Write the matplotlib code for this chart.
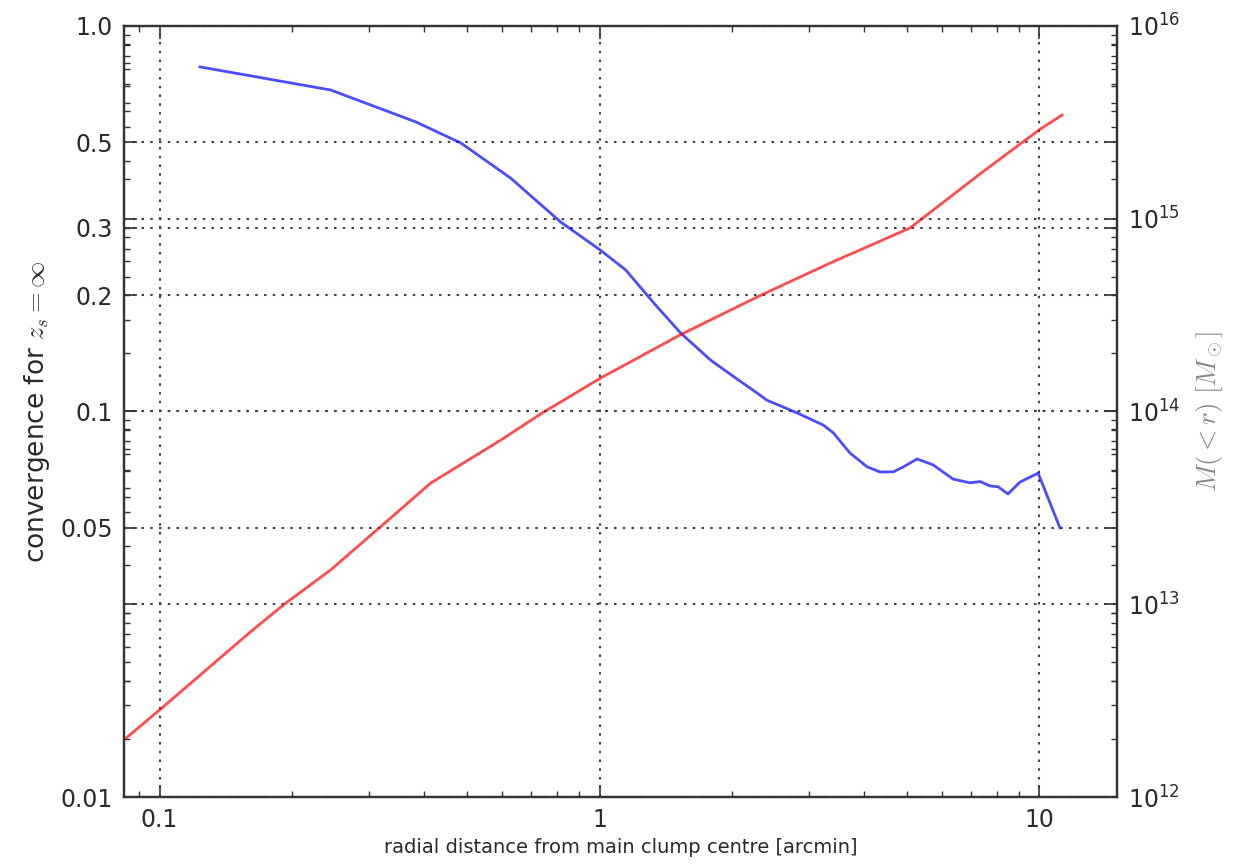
import matplotlib
matplotlib.use("Agg")
import matplotlib.pyplot as plt
from matplotlib.ticker import FixedLocator, FixedFormatter, LogLocator, NullFormatter

plt.rcParams['mathtext.fontset'] = 'cm'
plt.rcParams['font.family'] = ['DejaVu Sans']

# convergence profile (left axis)
kappa_r = [0.1236, 0.245, 0.382, 0.484, 0.628, 0.816, 1.005, 1.146, 1.34, 1.527, 1.787,
           2.0, 2.28, 2.40, 2.815, 3.226, 3.40, 3.71, 4.06, 4.34, 4.65, 4.90, 5.27, 5.73,
           6.36, 6.95, 7.33, 7.72, 8.05, 8.48, 9.03, 9.93, 11.13]
kappa = [0.783, 0.682, 0.564, 0.497, 0.403, 0.310, 0.262, 0.233, 0.189, 0.160, 0.136,
         0.124, 0.1117, 0.107, 0.0991, 0.0922, 0.0880, 0.078, 0.0718, 0.0697, 0.0697,
         0.0718, 0.0753, 0.0727, 0.0668, 0.0653, 0.0658, 0.0641, 0.0638, 0.0611, 0.0656,
         0.0692, 0.0499]

# enclosed mass (right axis)
mass_r = [0.083, 0.1, 0.161, 0.192, 0.245, 0.335, 0.413, 0.596, 0.734, 1.005, 1.527, 2.32,
          3.35, 5.08, 7.33, 10.0, 11.25]
mass = [1.98e12, 2.83e12, 7.2e12, 1.0e13, 1.51e13, 2.8e13, 4.25e13, 7.1e13, 9.7e13,
        1.49e14, 2.5e14, 4.0e14, 5.9e14, 8.96e14, 1.71e15, 2.9e15, 3.45e15]

left_ticks = [0.01, 0.05, 0.1, 0.2, 0.3, 0.5, 1.0]
left_labels = ['0.01', '0.05', '0.1', '0.2', '0.3', '0.5', '1.0']
x_ticks = [0.1, 1, 10]
x_labels = ['0.1', '1', '10']

txt = '#2a2a2a'
gridkw = dict(color='#444444', linestyle=(0, (1.2, 3)), linewidth=1.5)

fig = plt.figure(figsize=(12.47, 8.65), dpi=100)
ax = fig.add_axes([0.0994, 0.0786, 0.7963, 0.8914])
ax2 = ax.twinx()

ax.plot(kappa_r, kappa, color='blue', alpha=0.7, lw=2)
ax2.plot(mass_r, mass, color='red', alpha=0.7, lw=2)

ax.set_xscale('log')
ax.set_yscale('log')
ax2.set_yscale('log')
ax.set_xlim(0.083, 15)
ax.set_ylim(0.01, 1.0)
ax2.set_ylim(1e12, 1e16)

ax.xaxis.set_major_locator(FixedLocator(x_ticks))
ax.xaxis.set_major_formatter(FixedFormatter(x_labels))
ax.xaxis.set_minor_locator(LogLocator(base=10, subs=range(2, 10)))
ax.xaxis.set_minor_formatter(NullFormatter())
ax.yaxis.set_major_locator(FixedLocator(left_ticks))
ax.yaxis.set_major_formatter(FixedFormatter(left_labels))
ax.yaxis.set_minor_locator(LogLocator(base=10, subs=range(2, 10)))
ax.yaxis.set_minor_formatter(NullFormatter())
ax2.yaxis.set_major_locator(LogLocator(base=10))
ax2.yaxis.set_minor_locator(LogLocator(base=10, subs=range(2, 10)))
ax2.yaxis.set_minor_formatter(NullFormatter())

for a in (ax, ax2):
    a.tick_params(which='major', direction='in', length=9, width=1.2, colors='#333333',
                  labelsize=17, labelcolor=txt, pad=8)
    a.tick_params(which='minor', direction='in', length=4.5, width=1.0, colors='#333333')
    for s in a.spines.values():
        s.set_linewidth(1.6)
        s.set_color('#333333')

ax.tick_params(axis='x', which='both', top=True, bottom=True)
ax.tick_params(axis='y', which='both', left=True, right=True, labelleft=True, labelright=False)
ax2.tick_params(axis='y', which='both', left=True, right=True, labelleft=False, labelright=True)

ax.grid(True, which='major', **gridkw)
ax2.grid(True, which='major', axis='y', **gridkw)
ax.set_axisbelow(True)

ax.set_xlabel('radial distance from main clump centre [arcmin]', fontsize=14, color=txt,
              labelpad=4)
ax.set_ylabel(r'convergence for $z_s = \infty$', fontsize=19, color=txt, labelpad=6)
ax2.set_ylabel(r'$M(<r)\ [M_\odot]$', fontsize=19.5, color='#888888', labelpad=10)

fig.savefig('out.png', dpi=100)
